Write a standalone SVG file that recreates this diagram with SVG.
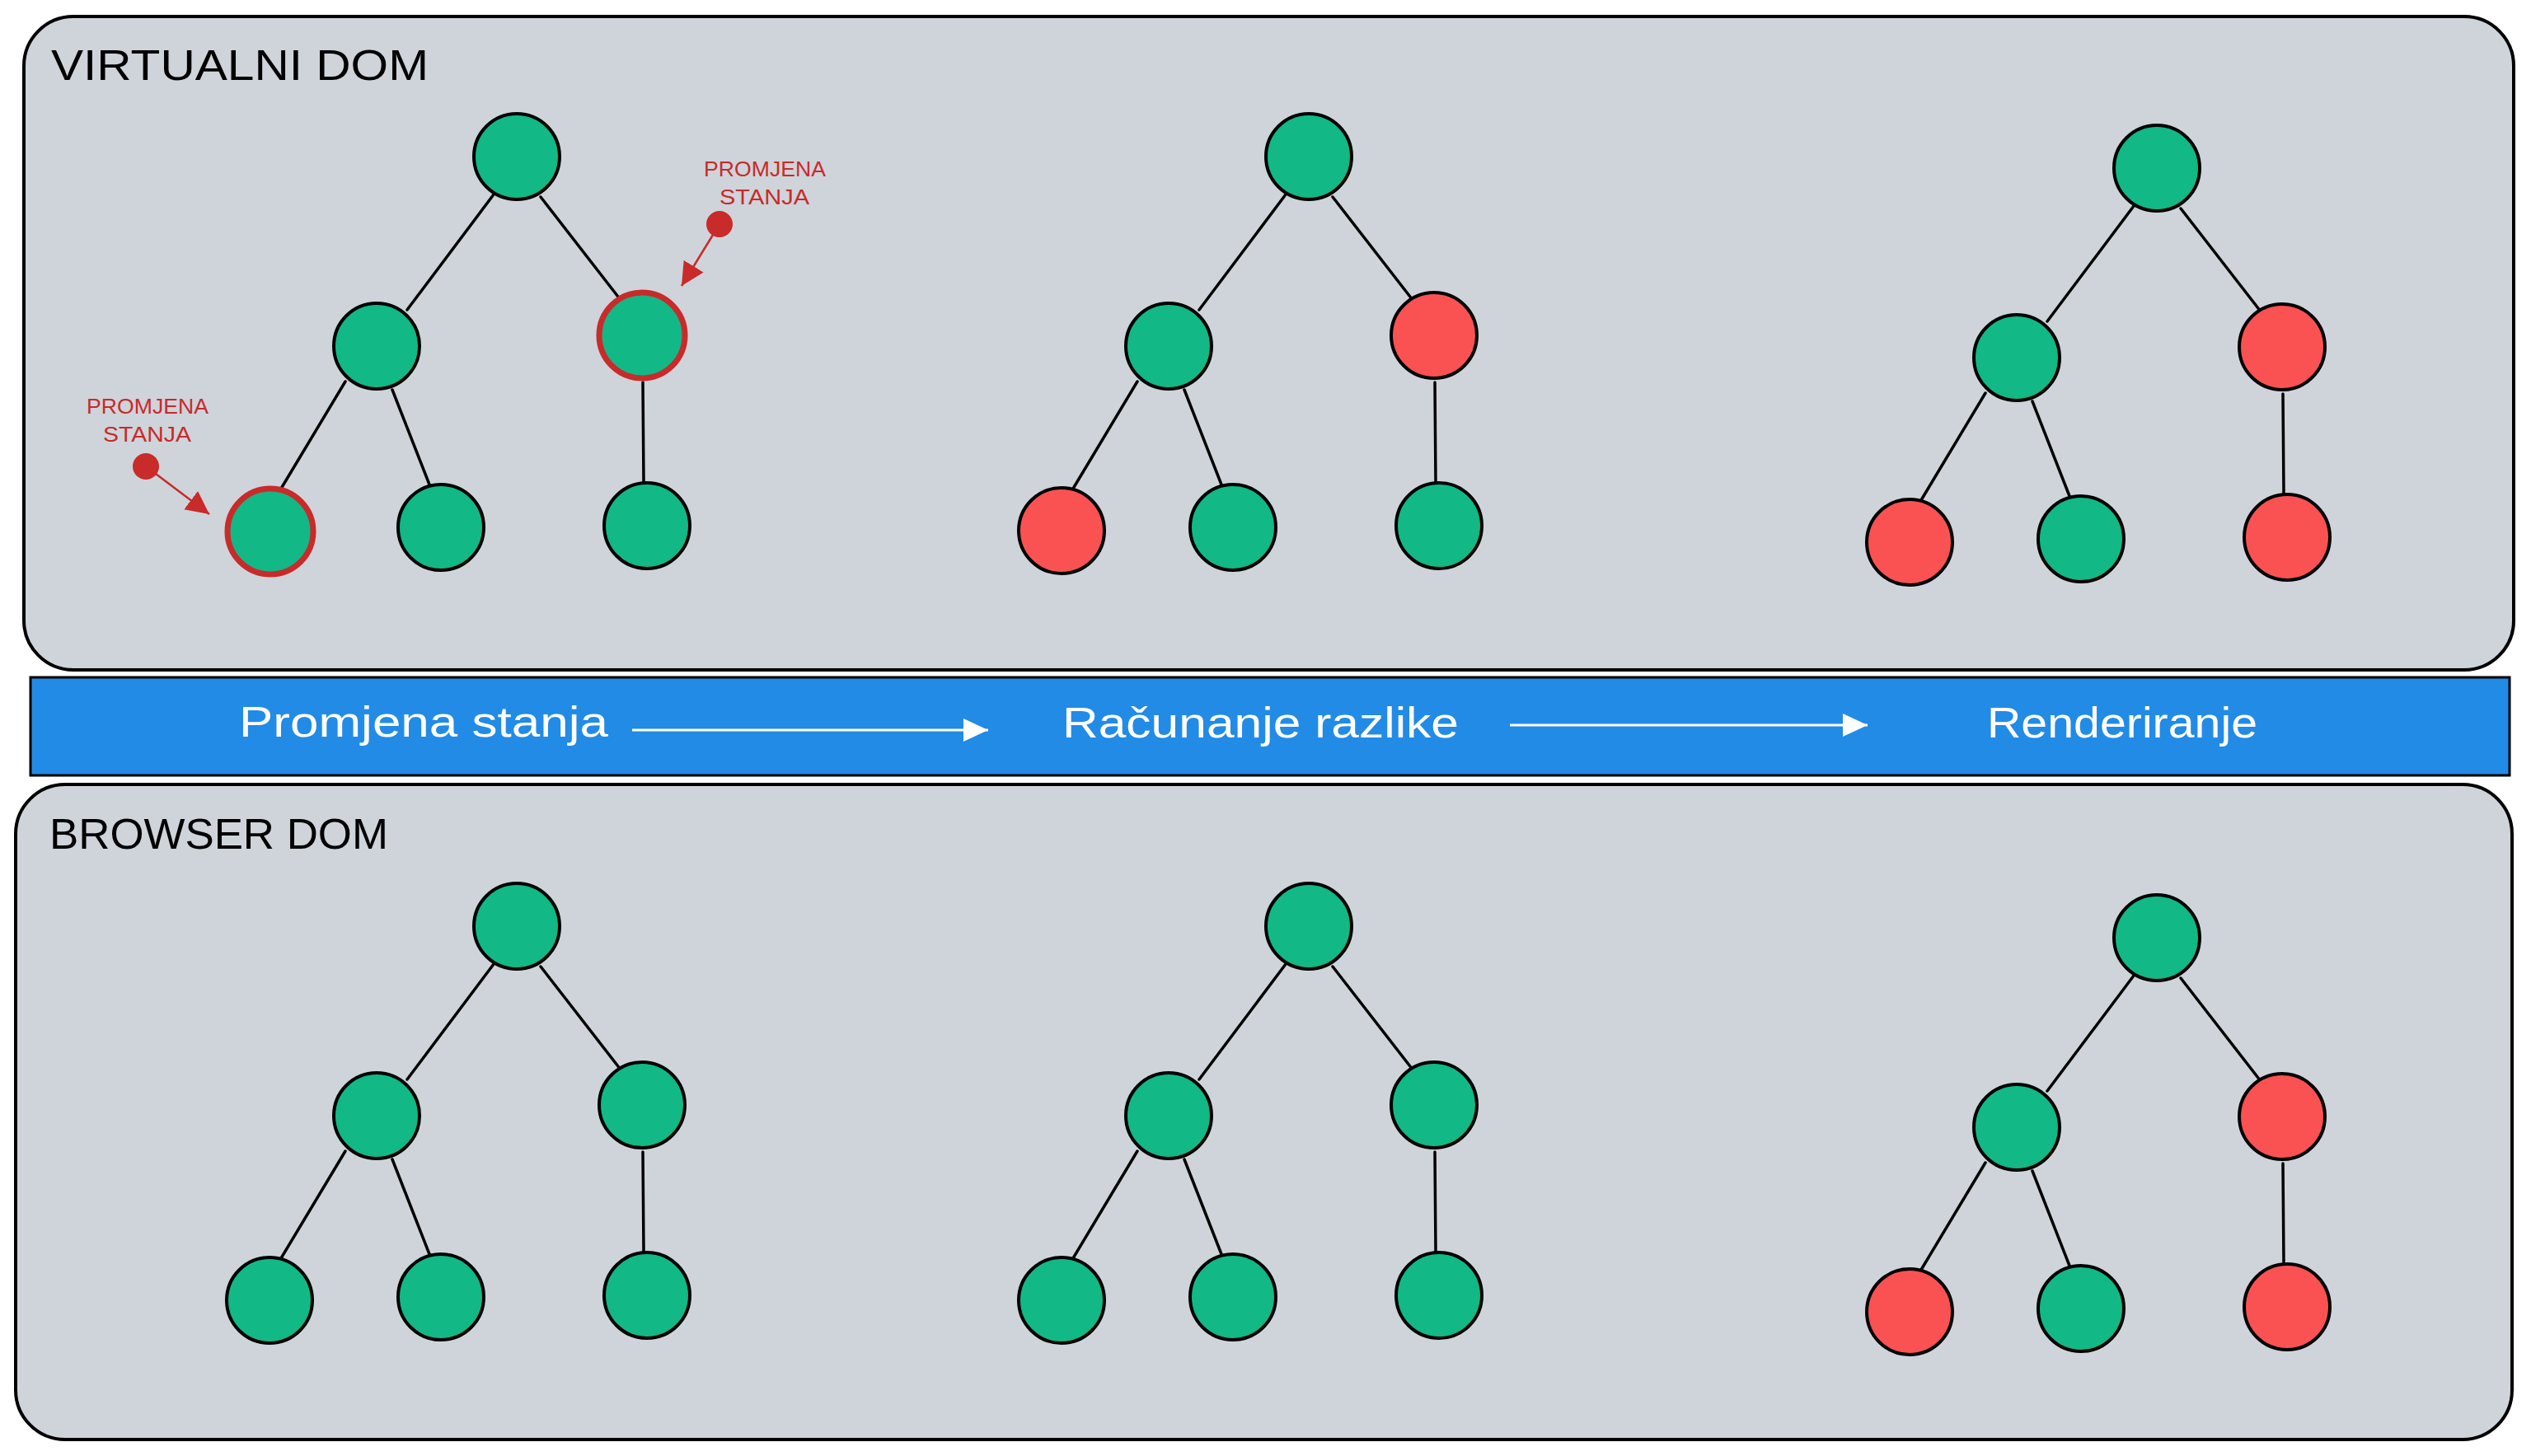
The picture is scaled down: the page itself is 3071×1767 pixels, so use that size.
<svg xmlns="http://www.w3.org/2000/svg" width="3071" height="1767" viewBox="0 0 3071 1767">
<style>
.panel{fill:#ced4da;stroke:#000;stroke-width:4}
.band{fill:#228be6;stroke:#000;stroke-width:3}
.g{fill:#12b886;stroke:#000;stroke-width:4}
.r{fill:#fa5252;stroke:#000;stroke-width:4}
.hl{fill:#12b886;stroke:#c92a2a;stroke-width:7}
.edge{stroke:#000;stroke-width:3.5;stroke-linecap:round;fill:none}
.title{font-family:"Liberation Sans",Arial,sans-serif;font-size:52px;fill:#000}
.step{font-family:"Liberation Sans",Arial,sans-serif;font-size:52px;fill:#fff}
.note{font-family:"Liberation Sans",Arial,sans-serif;font-size:26px;fill:#c92a2a}
.warrow{stroke:#fff;stroke-width:3;fill:none}
.rarrow{stroke:#c92a2a;stroke-width:2.5;fill:none}
.dot{fill:#c92a2a}
</style>
<defs>
<marker id="wh" markerUnits="userSpaceOnUse" markerWidth="30" markerHeight="28" refX="30" refY="14" orient="auto" viewBox="0 0 30 28">
<path d="M0,0 L30,14 L0,28 Z" fill="#fff"/>
</marker>
<marker id="rh" markerUnits="userSpaceOnUse" markerWidth="28" markerHeight="28" refX="28" refY="14" orient="auto" viewBox="0 0 28 28">
<path d="M0,0 L28,14 L0,28 Z" fill="#c92a2a"/>
</marker>
</defs>

<g id="panel-virtual">
<rect class="panel" x="29" y="20" width="3021" height="793" rx="60" ry="60"/>
<text class="title" x="62" y="97" textLength="458" lengthAdjust="spacingAndGlyphs">VIRTUALNI DOM</text>
</g>
<g id="band">
<rect class="band" x="37" y="822" width="3008" height="119"/>
<text class="step" x="290" y="894" textLength="448" lengthAdjust="spacingAndGlyphs">Promjena stanja</text>
<text class="step" x="1289" y="895" textLength="481" lengthAdjust="spacingAndGlyphs">Računanje razlike</text>
<text class="step" x="2411" y="895" textLength="328" lengthAdjust="spacingAndGlyphs">Renderiranje</text>
</g>
<g id="panel-browser">
<rect class="panel" x="19" y="952" width="3029" height="795" rx="60" ry="60"/>
<text class="title" x="60" y="1030" textLength="411" lengthAdjust="spacingAndGlyphs">BROWSER DOM</text>
</g>

<g id="connectors">
<g transform="translate(0,0)">
<line class="edge" x1="599" y1="236" x2="494" y2="376"/>
<line class="edge" x1="656" y1="239" x2="753" y2="364"/>
<line class="edge" x1="419" y1="463" x2="341" y2="593"/>
<line class="edge" x1="476" y1="473" x2="521" y2="588"/>
<line class="edge" x1="780" y1="464" x2="781" y2="585"/>
</g>
<g transform="translate(961,0)">
<line class="edge" x1="599" y1="236" x2="494" y2="376"/>
<line class="edge" x1="656" y1="239" x2="753" y2="364"/>
<line class="edge" x1="419" y1="463" x2="341" y2="593"/>
<line class="edge" x1="476" y1="473" x2="521" y2="588"/>
<line class="edge" x1="780" y1="464" x2="781" y2="585"/>
</g>
<g transform="translate(1990,14)">
<line class="edge" x1="599" y1="236" x2="494" y2="376"/>
<line class="edge" x1="656" y1="239" x2="753" y2="364"/>
<line class="edge" x1="419" y1="463" x2="341" y2="593"/>
<line class="edge" x1="476" y1="473" x2="521" y2="588"/>
<line class="edge" x1="780" y1="464" x2="781" y2="585"/>
</g>
<g transform="translate(0,934)">
<line class="edge" x1="599" y1="236" x2="494" y2="376"/>
<line class="edge" x1="656" y1="239" x2="753" y2="364"/>
<line class="edge" x1="419" y1="463" x2="341" y2="593"/>
<line class="edge" x1="476" y1="473" x2="521" y2="588"/>
<line class="edge" x1="780" y1="464" x2="781" y2="585"/>
</g>
<g transform="translate(961,934)">
<line class="edge" x1="599" y1="236" x2="494" y2="376"/>
<line class="edge" x1="656" y1="239" x2="753" y2="364"/>
<line class="edge" x1="419" y1="463" x2="341" y2="593"/>
<line class="edge" x1="476" y1="473" x2="521" y2="588"/>
<line class="edge" x1="780" y1="464" x2="781" y2="585"/>
</g>
<g transform="translate(1990,948)">
<line class="edge" x1="599" y1="236" x2="494" y2="376"/>
<line class="edge" x1="656" y1="239" x2="753" y2="364"/>
<line class="edge" x1="419" y1="463" x2="341" y2="593"/>
<line class="edge" x1="476" y1="473" x2="521" y2="588"/>
<line class="edge" x1="780" y1="464" x2="781" y2="585"/>
</g>
<line class="warrow" x1="767" y1="886" x2="1199" y2="886" marker-end="url(#wh)"/>
<line class="warrow" x1="1832" y1="880" x2="2266" y2="880" marker-end="url(#wh)"/>
<line class="rarrow" x1="177" y1="566" x2="254" y2="624" marker-end="url(#rh)"/>
<line class="rarrow" x1="873" y1="272" x2="827" y2="347" marker-end="url(#rh)"/>
</g>

<g id="note-left">
<text class="note" x="105" y="502" textLength="148" lengthAdjust="spacingAndGlyphs">PROMJENA</text>
<text class="note" x="125" y="536" textLength="107" lengthAdjust="spacingAndGlyphs">STANJA</text>
<circle class="dot" cx="177" cy="566" r="16"/>
</g>
<g id="note-right">
<text class="note" x="854" y="214" textLength="148" lengthAdjust="spacingAndGlyphs">PROMJENA</text>
<text class="note" x="873" y="248" textLength="109" lengthAdjust="spacingAndGlyphs">STANJA</text>
<circle class="dot" cx="873" cy="272" r="16"/>
</g>

<g id="t1-root"><circle class="g" cx="627" cy="190" r="52"/></g>
<g id="t1-left"><circle class="g" cx="457" cy="420" r="52"/></g>
<g id="t1-right"><circle class="hl" cx="779" cy="407" r="52"/></g>
<g id="t1-ll"><circle class="hl" cx="328" cy="645" r="52"/></g>
<g id="t1-lr"><circle class="g" cx="535" cy="640" r="52"/></g>
<g id="t1-rr"><circle class="g" cx="785" cy="638" r="52"/></g>

<g id="t2-root"><circle class="g" cx="1588" cy="190" r="52"/></g>
<g id="t2-left"><circle class="g" cx="1418" cy="420" r="52"/></g>
<g id="t2-right"><circle class="r" cx="1740" cy="407" r="52"/></g>
<g id="t2-ll"><circle class="r" cx="1288" cy="644" r="52"/></g>
<g id="t2-lr"><circle class="g" cx="1496" cy="640" r="52"/></g>
<g id="t2-rr"><circle class="g" cx="1746" cy="638" r="52"/></g>

<g id="t3-root"><circle class="g" cx="2617" cy="204" r="52"/></g>
<g id="t3-left"><circle class="g" cx="2447" cy="434" r="52"/></g>
<g id="t3-right"><circle class="r" cx="2769" cy="421" r="52"/></g>
<g id="t3-ll"><circle class="r" cx="2317" cy="658" r="52"/></g>
<g id="t3-lr"><circle class="g" cx="2525" cy="654" r="52"/></g>
<g id="t3-rr"><circle class="r" cx="2775" cy="652" r="52"/></g>

<g id="b1-root"><circle class="g" cx="627" cy="1124" r="52"/></g>
<g id="b1-left"><circle class="g" cx="457" cy="1354" r="52"/></g>
<g id="b1-right"><circle class="g" cx="779" cy="1341" r="52"/></g>
<g id="b1-ll"><circle class="g" cx="327" cy="1578" r="52"/></g>
<g id="b1-lr"><circle class="g" cx="535" cy="1574" r="52"/></g>
<g id="b1-rr"><circle class="g" cx="785" cy="1572" r="52"/></g>

<g id="b2-root"><circle class="g" cx="1588" cy="1124" r="52"/></g>
<g id="b2-left"><circle class="g" cx="1418" cy="1354" r="52"/></g>
<g id="b2-right"><circle class="g" cx="1740" cy="1341" r="52"/></g>
<g id="b2-ll"><circle class="g" cx="1288" cy="1578" r="52"/></g>
<g id="b2-lr"><circle class="g" cx="1496" cy="1574" r="52"/></g>
<g id="b2-rr"><circle class="g" cx="1746" cy="1572" r="52"/></g>

<g id="b3-root"><circle class="g" cx="2617" cy="1138" r="52"/></g>
<g id="b3-left"><circle class="g" cx="2447" cy="1368" r="52"/></g>
<g id="b3-right"><circle class="r" cx="2769" cy="1355" r="52"/></g>
<g id="b3-ll"><circle class="r" cx="2317" cy="1592" r="52"/></g>
<g id="b3-lr"><circle class="g" cx="2525" cy="1588" r="52"/></g>
<g id="b3-rr"><circle class="r" cx="2775" cy="1586" r="52"/></g>
</svg>
